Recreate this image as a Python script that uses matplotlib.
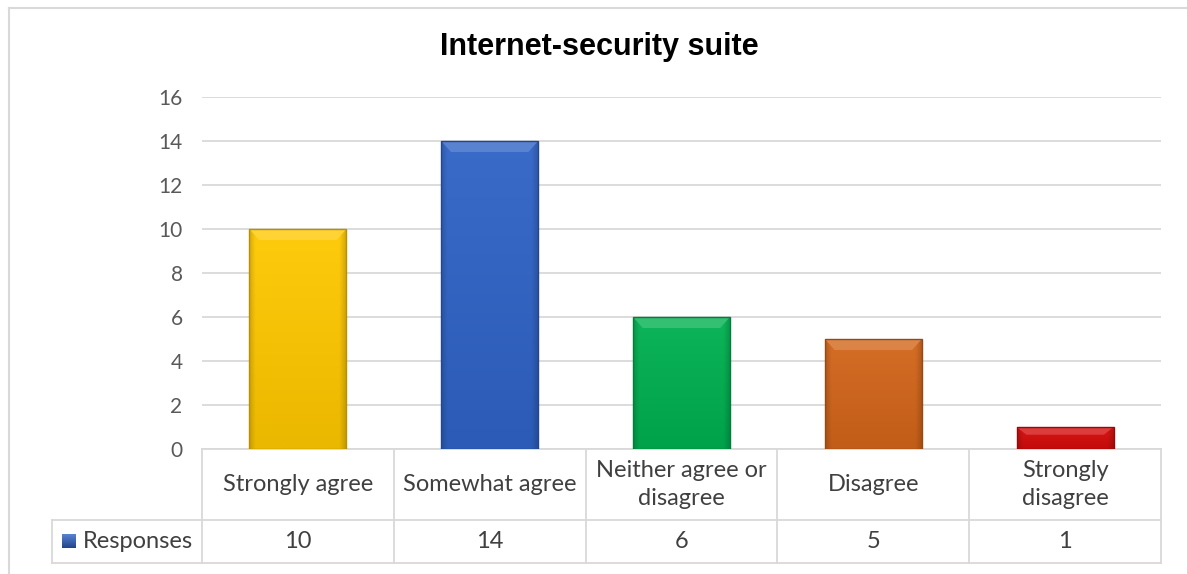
import numpy as np
import matplotlib.pyplot as plt
from matplotlib.colors import to_rgb
from matplotlib.lines import Line2D
from matplotlib.patches import Polygon, Rectangle

categories = ["Strongly agree", "Somewhat agree", "Neither agree or\ndisagree",
              "Disagree", "Strongly\ndisagree"]
responses = [10, 14, 6, 5, 1]
series_name = "Responses"
bar_colors = ["#FFC800", "#2F63C6", "#00B050", "#D2651A", "#D40B0B"]
yticks = [0, 2, 4, 6, 8, 10, 12, 14, 16]

plt.rcParams['font.family'] = ['Lato', 'DejaVu Sans']
grid_col = "#D9D9D9"
text_col = "#404040"


def shade(color, f):
    c = np.array(to_rgb(color))
    if f >= 1:
        return tuple(c + (1 - c) * (f - 1))
    return tuple(c * f)


def gradient_bar(ax, rect, color):
    # vertical gradient clipped to the bar, lighter at the top
    x0, y0 = rect.get_x(), rect.get_y()
    w, h = rect.get_width(), rect.get_height()
    top = np.array(shade(color, 1.05))
    bot = np.array(shade(color, 0.92))
    t = np.linspace(0, 1, 64)[:, None]
    col = top * (1 - t) + bot * t
    # darker sides
    s = np.linspace(-1, 1, 64)[None, :]
    side = 1 - 0.15 * np.clip(np.abs(s) - 0.88, 0, None) / 0.12
    img = col[:, None, :] * side[:, :, None]
    im = ax.imshow(np.clip(img, 0, 1), extent=(x0, x0 + w, y0, y0 + h),
                   aspect='auto', zorder=2, interpolation='bilinear')
    im.set_clip_path(rect)
    # bevel on top
    bh = min(0.5, h * 0.35)
    bw = w * 0.1
    ax.add_patch(Polygon([(x0, y0 + h), (x0 + w, y0 + h),
                          (x0 + w - bw, y0 + h - bh), (x0 + bw, y0 + h - bh)],
                         closed=True, facecolor=shade(color, 1.2),
                         edgecolor='none', zorder=3))
    ax.add_patch(Rectangle((x0, y0), w, h, facecolor='none',
                           edgecolor=shade(color, 0.72), lw=1.0, zorder=4))


fig = plt.figure(figsize=(11.87, 5.74), dpi=100)
W, H = 1187, 574
ax = fig.add_axes([202 / W, 1 - 449 / H, 959 / W, 352 / H])

x = np.arange(len(categories))
bars = ax.bar(x, responses, width=0.505, color='none', zorder=2)
for rect, c in zip(bars, bar_colors):
    gradient_bar(ax, rect, c)

ax.set_xlim(-0.5, len(categories) - 0.5)
ax.set_ylim(0, 16)
ax.set_yticks(yticks)
ax.set_yticklabels([str(v) for v in yticks], fontsize=15, color="#595959")
ax.tick_params(axis='y', length=0, pad=14)
ax.set_xticks([])
ax.grid(axis='y', color=grid_col, lw=1.3)
ax.set_axisbelow(True)
for sp in ax.spines.values():
    sp.set_visible(False)

# data table under the plot
px = 22.0  # pixels per y unit
cw = 191.8  # pixels per category
head_b = -71 / px
row_b = -114 / px
lab_l = -0.5 - 150 / cw
lkw = dict(color=grid_col, lw=1.3, clip_on=False, zorder=1)
ax.plot([-0.5, 4.5], [0, 0], **lkw)
ax.plot([lab_l, 4.5], [head_b, head_b], **lkw)
ax.plot([lab_l, 4.5], [row_b, row_b], **lkw)
ax.plot([lab_l, lab_l], [head_b, row_b], **lkw)
for i in range(len(categories) + 1):
    ax.plot([i - 0.5, i - 0.5], [0, row_b], **lkw)

for i, (cat, v) in enumerate(zip(categories, responses)):
    ax.text(i, head_b / 2, cat, ha='center', va='center', fontsize=17,
            color=text_col, linespacing=1.42, clip_on=False)
    ax.text(i, (head_b + row_b) / 2, str(v), ha='center', va='center',
            fontsize=17, color=text_col, clip_on=False)

# legend key in the row label cell
ymid = (head_b + row_b) / 2
kx = lab_l + 10 / cw
ks = 14
k_top = np.array(shade(bar_colors[1], 1.2))
k_bot = np.array(shade(bar_colors[1], 0.7))
kimg = k_top + np.linspace(0, 1, 32)[:, None, None] * (k_bot - k_top)
kim = ax.imshow(np.clip(np.repeat(kimg, 2, axis=1), 0, 1),
                extent=(kx, kx + ks / cw, ymid - ks / 2 / px, ymid + ks / 2 / px),
                aspect='auto', zorder=3)
kim.set_clip_on(False)
ax.text(kx + 21 / cw, ymid, series_name, ha='left', va='center',
        fontsize=17, color=text_col, clip_on=False)
ax.set_xlim(-0.5, len(categories) - 0.5)
ax.set_ylim(0, 16)

fig.text(599 / W, 1 - 47 / H, "Internet-security suite", ha='center', va='center',
         fontsize=22, fontweight='bold', family='Liberation Sans', color='black')

# chart frame
fig.add_artist(Line2D([9 / W, 1], [1 - 8 / H, 1 - 8 / H], color=grid_col, lw=1.5,
                      transform=fig.transFigure))
fig.add_artist(Line2D([9 / W, 9 / W], [0, 1 - 8 / H], color=grid_col, lw=1.5,
                      transform=fig.transFigure))

fig.savefig("out.png", dpi=100)
